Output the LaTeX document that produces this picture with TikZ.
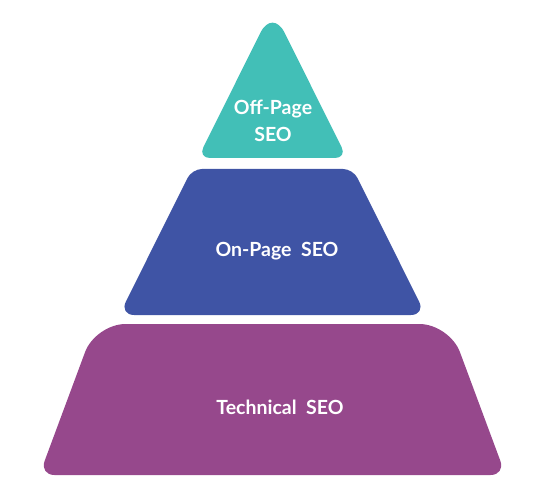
\documentclass[tikz,border=0pt]{standalone}
\usepackage{fontspec}
\setmainfont{Lato}
\definecolor{teal1}{HTML}{42BFB7}
\definecolor{blue1}{HTML}{3F54A5}
\definecolor{purple1}{HTML}{96488C}
\begin{document}
\begin{tikzpicture}[x=1pt,y=-1pt,
  lbl/.style={text=white,font=\bfseries\fontsize{19.5}{27}\selectfont,align=center}]
\useasboundingbox (0,0) rectangle (552,500);
% bottom layer
\fill[purple1] (272.5,475) [rounded corners=15] -- (39.4,475) [rounded corners=30] -- (95.5,324) -- (449.5,324) [rounded corners=15] -- (505.6,475) -- cycle;
% middle layer
\fill[blue1] (272.5,315) [rounded corners=15] -- (119.2,315) [rounded corners=10] -- (192,169) -- (353,169) [rounded corners=15] -- (425.8,315) -- cycle;
% top layer
\fill[teal1] (272.5,158) [rounded corners=12] -- (198,158) [rounded corners=27] -- (272.5,8.5) [rounded corners=12] -- (347,158) -- cycle;
\node[lbl] (offpage) at (273,121) {Off-Page\\SEO};
\node[lbl] (onpage) at (277,251) {On-Page\ \ SEO};
\node[lbl] (technical) at (280,407) {Technical\ \ SEO};
\end{tikzpicture}
\end{document}
